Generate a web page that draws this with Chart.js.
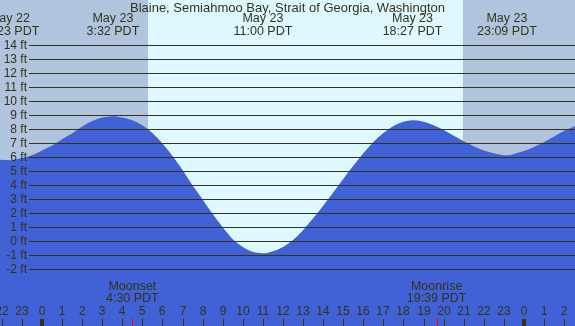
<!DOCTYPE html>
<html>
<head>
<meta charset="utf-8">
<script src="https://cdn.jsdelivr.net/npm/chart.js@4/dist/chart.umd.min.js"></script>
<style>
html,body{margin:0;padding:0;background:#b0c4de;}
#wrap{width:575px;height:326px;position:relative;}
</style>
</head>
<body>
<div id="wrap"><canvas id="c" width="575" height="326"></canvas></div>
<script>
// ---- data ----
const title = "Blaine, Semiahmoo Bay, Strait of Georgia, Washington";
// hours relative to midnight starting May 23 (negative = May 22)
const tideHours = [-2.09,-1.62,-1,-0.5,0,0.5,1,1.5,2,2.5,3,3.53,4,4.5,5,5.5,6,6.5,7,7.5,8,8.5,9,9.5,10,10.5,11,11.5,12,12.5,13,13.5,14,14.5,15,15.5,16,16.5,17,17.5,18,18.45,19,19.5,20,20.5,21,21.5,22,22.5,23.15,23.5,24,24.5,25,25.5,26,26.54];
const tideFeet  = [5.84,5.80,5.95,6.15,6.5,6.85,7.3,7.7,8.2,8.6,8.85,8.95,8.85,8.65,8.3,7.75,7.0,6.1,5.1,4.0,3.0,1.95,1.0,0.15,-0.4,-0.75,-0.85,-0.7,-0.4,0.1,0.8,1.65,2.55,3.5,4.45,5.4,6.3,7.1,7.75,8.25,8.55,8.65,8.55,8.3,7.95,7.55,7.15,6.8,6.5,6.3,6.15,6.25,6.45,6.75,7.1,7.5,7.9,8.25];

const extremeHours = [-1.62, 3.53, 11.0, 18.45, 23.15];
const extremeDates = ["May 22","May 23","May 23","May 23","May 23"];
const extremeTimes = ["22:23 PDT","3:32 PDT","11:00 PDT","18:27 PDT","23:09 PDT"];

const sunrise = 5.27, sunset = 20.96;

const moonHours = [4.5, 19.65];
const moonNames = ["Moonset","Moonrise"];
const moonTimes = ["4:30 PDT","19:39 PDT"];

const feetTicks = [14,13,12,11,10,9,8,7,6,5,4,3,2,1,0,-1,-2];
const hourTicks = [-2,-1,0,1,2,3,4,5,6,7,8,9,10,11,12,13,14,15,16,17,18,19,20,21,22,23,24,25,26];
const hourLabels = ["22","23","0","1","2","3","4","5","6","7","8","9","10","11","12","13","14","15","16","17","18","19","20","21","22","23","0","1","2"];

const xMin = -2.09, xMax = 26.54, yMin = -6.05, yMax = 17.25;

// ---- colours ----
const NIGHT = "#b0c4de", DAY = "#ddf8ff", WATER = "#4161d6", INK = "#333318";
const FONT = "12px 'Liberation Sans', Arial, sans-serif";
const FONT_EV = "12.5px 'Liberation Sans', Arial, sans-serif";

const deco = {
  id: 'deco',
  beforeDatasetsDraw(chart) {
    const ctx = chart.ctx, xs = chart.scales.x, a = chart.chartArea;
    ctx.save();
    ctx.fillStyle = NIGHT;
    ctx.fillRect(a.left, a.top, a.width, a.height);
    const x1 = Math.round(xs.getPixelForValue(sunrise));
    const x2 = Math.round(xs.getPixelForValue(sunset));
    ctx.fillStyle = DAY;
    ctx.fillRect(x1, a.top, x2 - x1, a.height);
    ctx.restore();
  },
  afterDatasetsDraw(chart) {
    const ctx = chart.ctx, xs = chart.scales.x, ys = chart.scales.y, a = chart.chartArea;
    ctx.save();
    ctx.font = FONT;
    ctx.fillStyle = INK;
    ctx.strokeStyle = INK;
    ctx.lineWidth = 1;
    ctx.textBaseline = 'middle';
    feetTicks.forEach(v => {
      const y = Math.round(ys.getPixelForValue(v)) + 0.5;
      ctx.beginPath();
      ctx.moveTo(29, y);
      ctx.lineTo(a.right, y);
      ctx.stroke();
      ctx.textAlign = 'right';
      ctx.fillText(v + " ft", 27, y);
    });
    ctx.textAlign = 'center';
    ctx.font = "13px 'Liberation Sans', Arial, sans-serif";
    ctx.fillText(title, (a.left + a.right) / 2, 8);
    ctx.font = FONT_EV;
    extremeHours.forEach((h, i) => {
      const x = xs.getPixelForValue(h);
      ctx.fillText(extremeDates[i], x, 19);
      ctx.fillText(extremeTimes[i], x, 32);
    });
    moonHours.forEach((h, i) => {
      const x = xs.getPixelForValue(h);
      ctx.fillText(moonNames[i], x, 287);
      ctx.fillText(moonTimes[i], x, 299);
    });
    ctx.font = FONT;
    hourTicks.forEach((h, i) => {
      const x = Math.round(xs.getPixelForValue(h));
      ctx.fillText(hourLabels[i], x, 312);
      if (hourLabels[i] === "0") {
        ctx.fillRect(x - 2, 319, 4, 7);
      } else {
        ctx.fillRect(x, 319, 1, 7);
      }
    });
    ctx.fillStyle = "#ff0000";
    moonHours.forEach(h => {
      const x = Math.round(xs.getPixelForValue(h));
      ctx.fillRect(x, 318, 1, 8);
    });
    ctx.restore();
  }
};

new Chart(document.getElementById('c'), {
  type: 'line',
  data: {
    datasets: [{
      data: tideHours.map((h, i) => ({x: h, y: tideFeet[i]})),
      borderColor: WATER,
      borderWidth: 0,
      backgroundColor: WATER,
      fill: 'start',
      pointRadius: 0,
      cubicInterpolationMode: 'monotone'
    }]
  },
  options: {
    responsive: false,
    animation: false,
    layout: {padding: 0},
    plugins: {legend: {display: false}, tooltip: {enabled: false}, title: {display: false}},
    scales: {
      x: {type: 'linear', min: xMin, max: xMax, display: false},
      y: {type: 'linear', min: yMin, max: yMax, display: false}
    }
  },
  plugins: [deco]
});
</script>
</body>
</html>
